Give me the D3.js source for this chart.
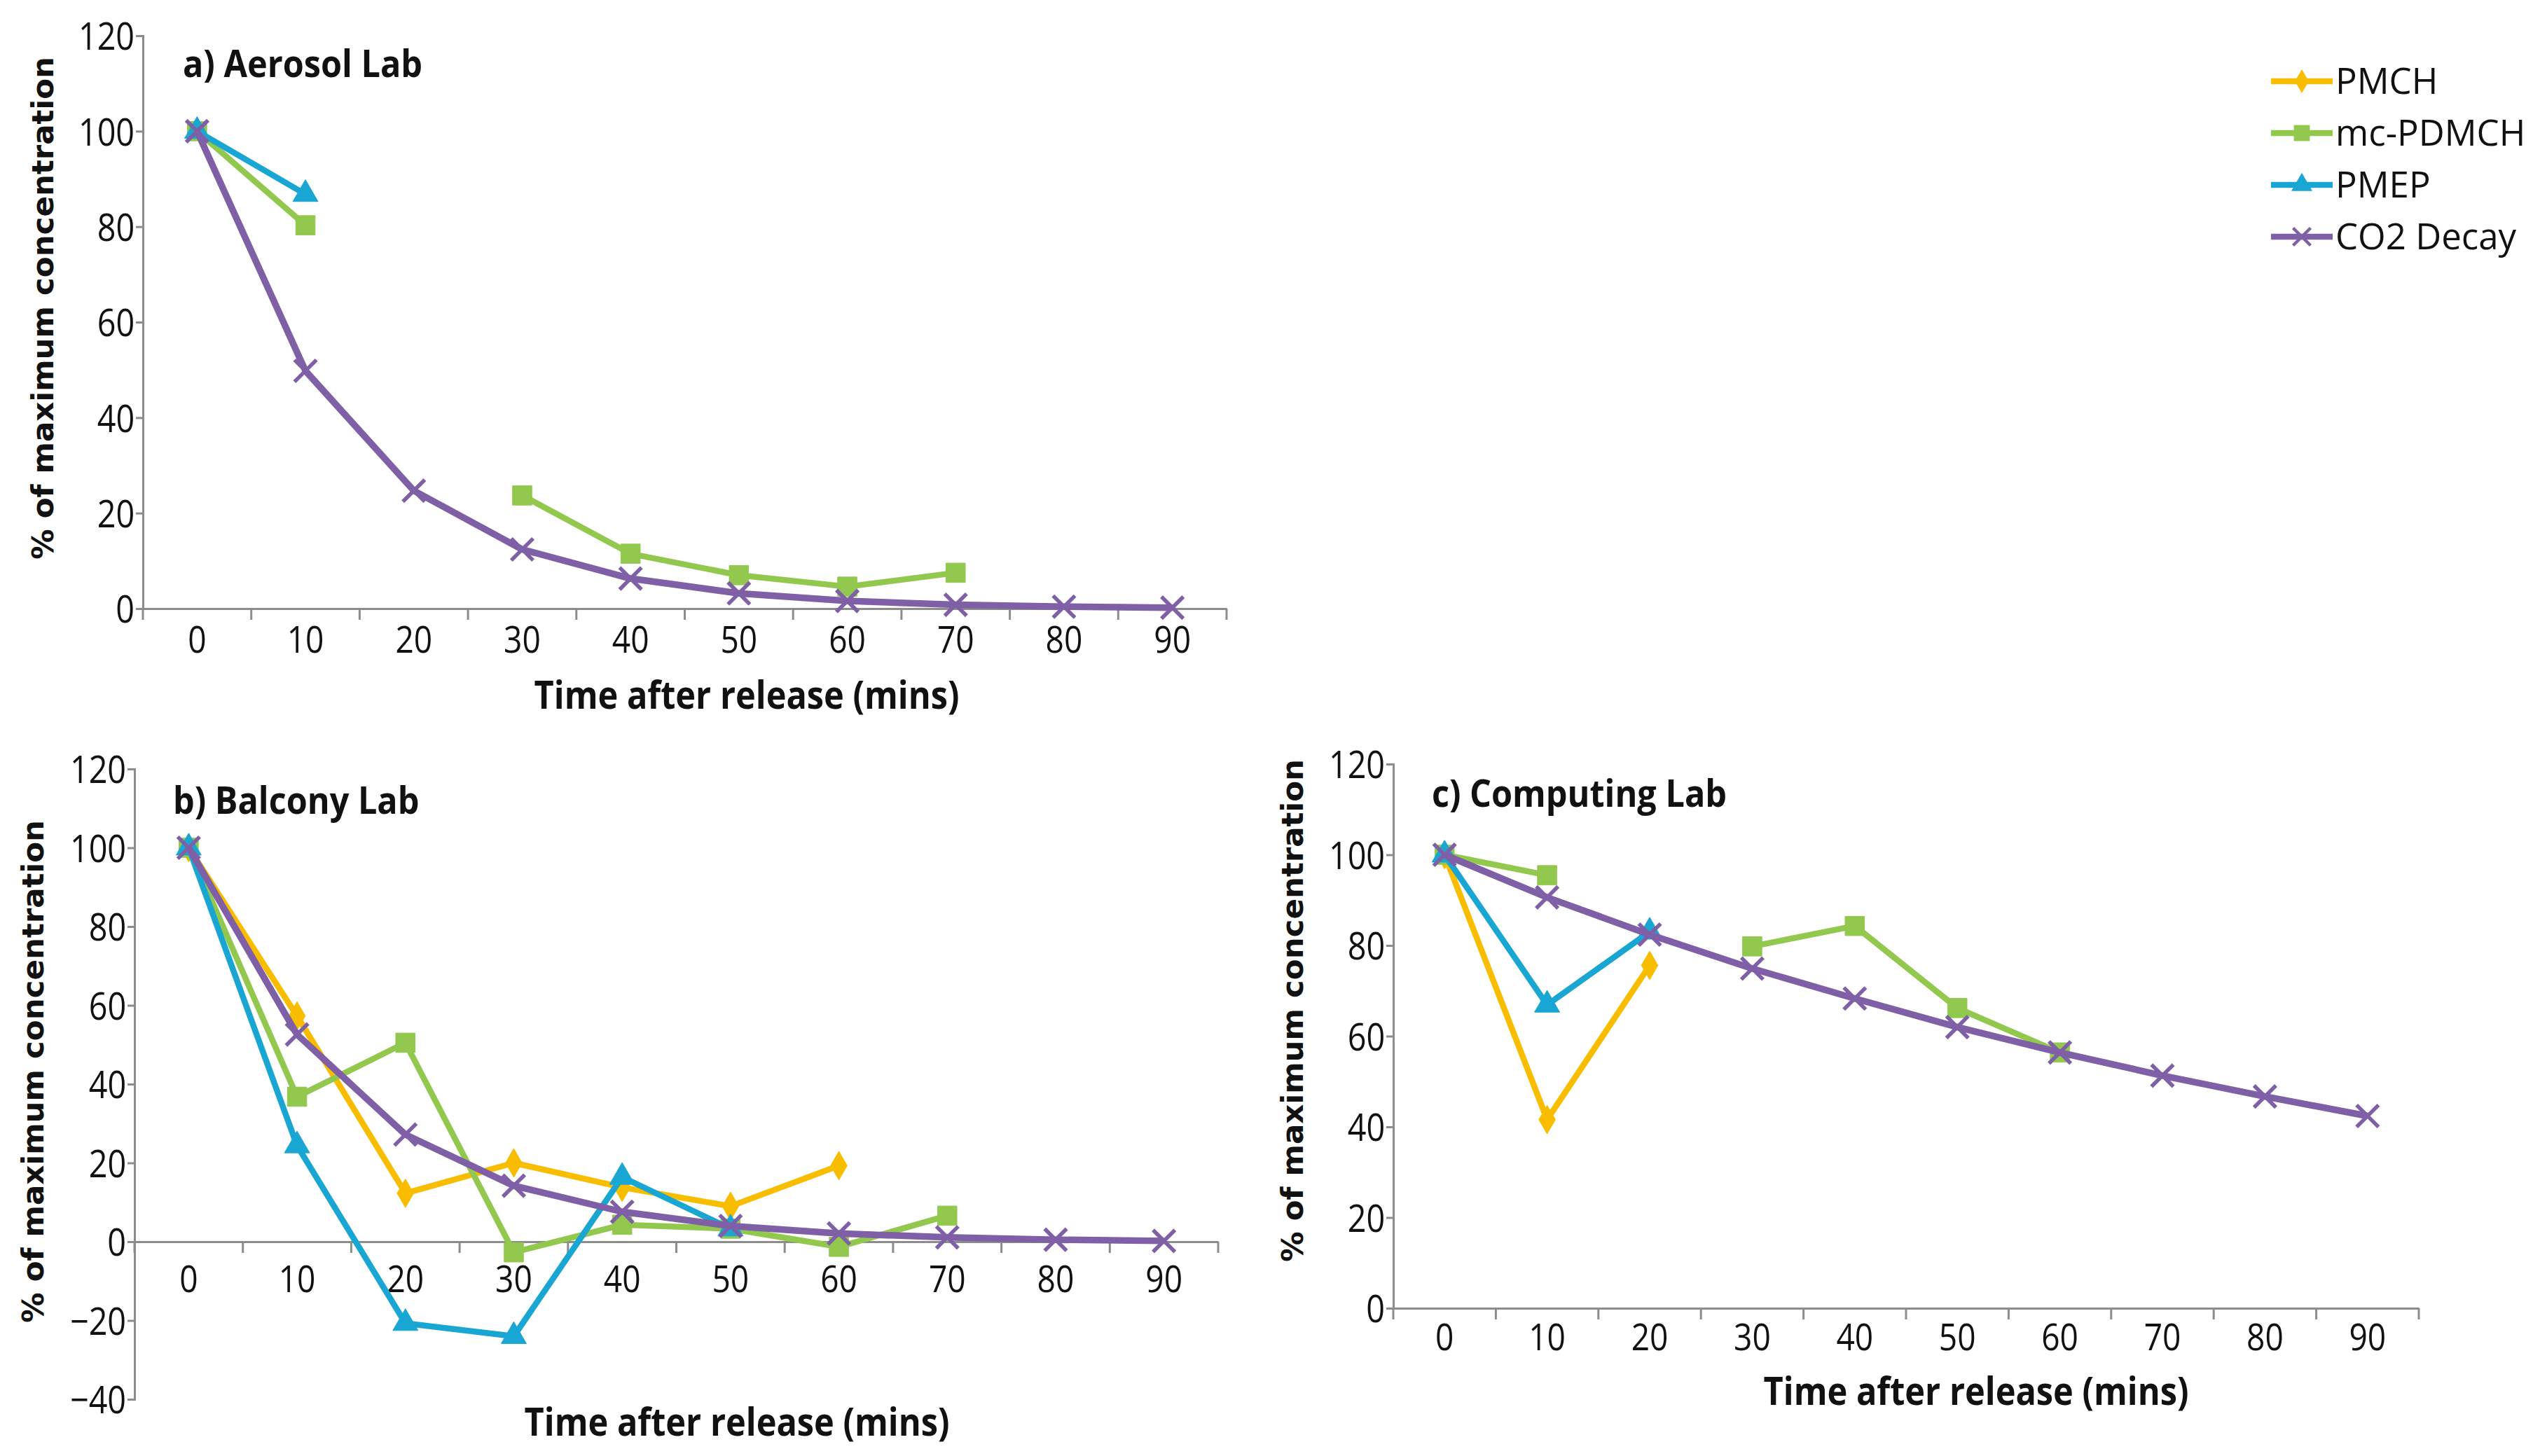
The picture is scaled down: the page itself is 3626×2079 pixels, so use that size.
<!DOCTYPE html>
<html>
<head>
<meta charset="utf-8">
<script src="https://cdn.jsdelivr.net/npm/d3@7"></script>
<style>
  body { margin: 0; background: #fff; }
  .tick text { font-family: "Open Sans", sans-serif; }
</style>
</head>
<body>
<div id="chart"></div>
<script>
const times = [0, 10, 20, 30, 40, 50, 60, 70, 80, 90];
const yTicksAC = [0, 20, 40, 60, 80, 100, 120];
const yTicksB = [-40, -20, 0, 20, 40, 60, 80, 100, 120];

const seriesNames = ["PMCH", "mc-PDMCH", "PMEP", "CO2 Decay"];
const colors = ["#F9BD00", "#92C84E", "#1AA6D2", "#7F5FA6"];

// a) Aerosol Lab
const aerosolPMCH = [null, null, null, null, null, null, null, null, null, null];
const aerosolPDMCH = [100, 80.3, null, 23.7, 11.5, 7.0, 4.6, 7.5, null, null];
const aerosolPMEP = [100, 86.8, null, null, null, null, null, null, null, null];
const aerosolCO2 = [100, 49.8, 24.7, 12.4, 6.3, 3.2, 1.6, 0.8, 0.4, 0.2];

// b) Balcony Lab
const balconyPMCH = [100, 57.3, 12.3, 20.0, 13.8, 9.0, 19.3, null, null, null];
const balconyPDMCH = [100, 36.8, 50.5, -2.7, 4.3, 3.3, -1.3, 6.6, null, null];
const balconyPMEP = [100, 24.4, -20.7, -24.0, 16.4, 3.3, null, null, null, null];
const balconyCO2 = [100, 52.6, 27.2, 14.2, 7.6, 4.0, 2.1, 1.1, 0.5, 0.2];

// c) Computing Lab
const computingPMCH = [100, 41.6, 75.6, null, null, null, null, null, null, null];
const computingPDMCH = [100, 95.5, null, 79.8, 84.3, 66.2, 56.4, null, null, null];
const computingPMEP = [100, 66.9, 83.0, null, null, null, null, null, null, null];
const computingCO2 = [100, 90.6, 82.4, 74.9, 68.3, 62.0, 56.4, 51.3, 46.7, 42.4];

const W = 3626, H = 2079;
const svg = d3.select("#chart").append("svg")
    .attr("width", W)
    .attr("height", H);

const symbols = [
    d3.symbol().type(d3.symbolDiamond).size(480),
    d3.symbol().type(d3.symbolSquare).size(760),
    d3.symbol().type(d3.symbolTriangle).size(560),
    d3.symbol().type(d3.symbolX).size(640)
];

const axisColor = "#8c8c8c";
const narrow = "Open Sans, sans-serif";

function drawPanel(cfg) {
    const x = d3.scaleBand().domain(times).range([cfg.left, cfg.right]);
    const y = d3.scaleLinear().domain(cfg.yDomain).range([cfg.bottom, cfg.top]);
    const g = svg.append("g");

    // y axis
    const yAxis = g.append("g")
        .attr("transform", `translate(${cfg.left},0)`)
        .call(d3.axisLeft(y).tickValues(cfg.yTicks).tickSize(10).tickPadding(4));
    yAxis.select(".domain").attr("stroke", axisColor).attr("stroke-width", 3);
    yAxis.selectAll(".tick line").attr("stroke", axisColor).attr("stroke-width", 3);
    yAxis.selectAll(".tick text")
        .attr("font-size", 55)
        .attr("fill", "#111")
        .attr("dy", "0.36em")
        .attr("transform", "scale(0.85,1)");

    // x axis at y = 0
    const xAxis = g.append("g")
        .attr("transform", `translate(0,${y(0)})`)
        .call(d3.axisBottom(x).tickSize(0).tickPadding(cfg.labelPad));
    xAxis.select(".domain").attr("stroke", axisColor).attr("stroke-width", 3);
    xAxis.selectAll(".tick text")
        .attr("font-size", 53)
        .attr("fill", "#111")
        .attr("transform", "scale(0.87,1)");
    const bounds = times.map(t => x(t)).concat([x.range()[1]]);
    xAxis.selectAll(".bound")
        .data(bounds)
        .enter().append("line")
        .attr("class", "bound")
        .attr("x1", d => d).attr("x2", d => d)
        .attr("y1", 0).attr("y2", 16)
        .attr("stroke", axisColor)
        .attr("stroke-width", 3);

    // axis titles
    g.append("text")
        .attr("transform", `translate(${cfg.xTitleX},${cfg.xTitleY}) scale(0.87,1)`)
        .attr("text-anchor", "middle")
        .attr("font-family", narrow)
        .attr("font-weight", "bold")
        .attr("font-size", 56)
        .attr("fill", "#111")
        .text("Time after release (mins)");

    g.append("text")
        .attr("transform", `translate(${cfg.yTitleX},${cfg.yTitleCy}) rotate(-90)`)
        .attr("text-anchor", "middle")
        .attr("font-family", "DejaVu Sans, sans-serif")
        .attr("font-weight", "bold")
        .attr("font-size", 43.5)
        .attr("fill", "#111")
        .text("% of maximum concentration");

    g.append("text")
        .attr("transform", `translate(${cfg.titleX},${cfg.titleY}) scale(0.9,1)`)
        .attr("font-family", narrow)
        .attr("font-weight", "bold")
        .attr("font-size", 54)
        .attr("fill", "#111")
        .text(cfg.title);

    const line = d3.line()
        .defined(d => d.v != null)
        .x(d => x(d.t) + x.bandwidth() / 2)
        .y(d => y(d.v));

    cfg.series.forEach((vals, i) => {
        const pts = times.map((t, j) => ({ t: t, v: vals[j] }));
        g.append("path")
            .datum(pts)
            .attr("d", line)
            .attr("fill", "none")
            .attr("stroke", colors[i])
            .attr("stroke-width", i === 3 ? 9.5 : 8.5)
            .attr("stroke-linejoin", "round");

        g.selectAll(".m" + i)
            .data(pts.filter(d => d.v != null))
            .enter().append("path")
            .attr("class", "m" + i)
            .attr("d", symbols[i])
            .attr("transform", d => `translate(${x(d.t) + x.bandwidth() / 2},${y(d.v)})`)
            .attr("fill", i === 3 ? "none" : colors[i])
            .attr("stroke", colors[i])
            .attr("stroke-width", i === 3 ? 5.5 : 1);
    });
}

drawPanel({
    title: "a) Aerosol Lab", titleX: 261, titleY: 110,
    left: 204, right: 1751, top: 51, bottom: 869,
    yDomain: [0, 120], yTicks: yTicksAC, labelPad: 25,
    xTitleX: 1066, xTitleY: 1012, yTitleX: 76, yTitleCy: 440,
    series: [aerosolPMCH, aerosolPDMCH, aerosolPMEP, aerosolCO2]
});

drawPanel({
    title: "b) Balcony Lab", titleX: 247, titleY: 1162,
    left: 192, right: 1739, top: 1098, bottom: 1998,
    yDomain: [-40, 120], yTicks: yTicksB, labelPad: 34,
    xTitleX: 1052, xTitleY: 2050, yTitleX: 62, yTitleCy: 1530,
    series: [balconyPMCH, balconyPDMCH, balconyPMEP, balconyCO2]
});

drawPanel({
    title: "c) Computing Lab", titleX: 2044, titleY: 1152,
    left: 1989, right: 3453, top: 1091, bottom: 1868,
    yDomain: [0, 120], yTicks: yTicksAC, labelPad: 22,
    xTitleX: 2821, xTitleY: 2006, yTitleX: 1860, yTitleCy: 1443,
    series: [computingPMCH, computingPDMCH, computingPMEP, computingCO2]
});

// legend
const legend = svg.append("g").attr("transform", "translate(3242,116)");
seriesNames.forEach((name, i) => {
    const row = legend.append("g").attr("transform", `translate(0,${i * 74})`);
    row.append("line")
        .attr("x1", 0).attr("x2", 88)
        .attr("y1", 0).attr("y2", 0)
        .attr("stroke", colors[i])
        .attr("stroke-width", 8.5);
    row.append("path")
        .attr("d", symbols[i])
        .attr("transform", "translate(44,0) scale(0.8)")
        .attr("fill", i === 3 ? "none" : colors[i])
        .attr("stroke", colors[i])
        .attr("stroke-width", i === 3 ? 5.5 : 1);
    row.append("text")
        .attr("x", 92)
        .attr("y", 0)
        .attr("dy", "0.35em")
        .attr("font-family", "Open Sans, sans-serif")
        .attr("font-size", 51)
        .attr("fill", "#111")
        .text(name);
});
</script>
</body>
</html>
